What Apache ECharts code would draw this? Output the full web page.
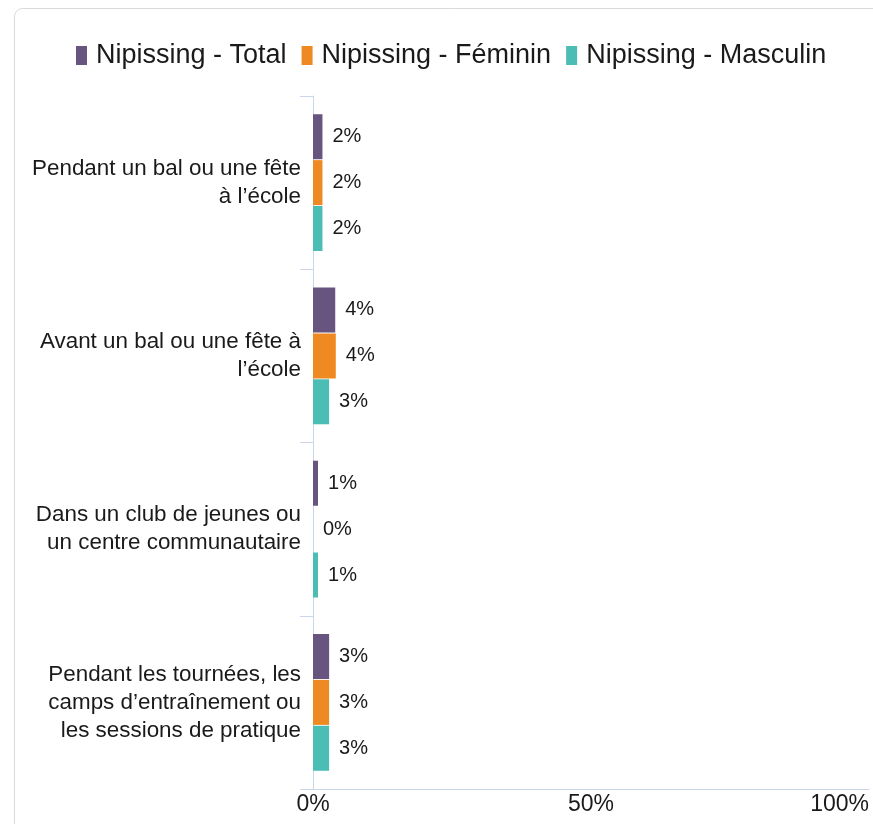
<!DOCTYPE html>
<html>
<head>
<meta charset="utf-8">
<script src="https://cdn.jsdelivr.net/npm/echarts@6/dist/echarts.min.js"></script>
<style>
  html, body { margin: 0; padding: 0; background: #fff; overflow: hidden; }
  #main { width: 873px; height: 824px; }
</style>
</head>
<body>
<div id="main"></div>
<script>
	'use strict';

	// categories, top to bottom
	var categories = [
		'Pendant un bal ou une fête\nà l\u2019école',
		'Avant un bal ou une fête à\nl\u2019école',
		'Dans un club de jeunes ou\nun centre communautaire',
		'Pendant les tournées, les\ncamps d\u2019entraînement ou\nles sessions de pratique'
	];
	var seriesNames = ['Nipissing - Total', 'Nipissing - Féminin', 'Nipissing - Masculin'];
	var totalValues = [1.7, 4.0, 0.9, 2.9];
	var femininValues = [1.7, 4.1, 0, 2.9];
	var masculinValues = [1.7, 2.9, 0.9, 2.9];
	var xTicks = [0, 50, 100];

	var colors = ['#67557f', '#ef8a22', '#4bbdb4'];
	var font = '"Liberation Sans", Arial, sans-serif';

	function barSeries(name, data, color){
		return {
			name: name,
			type: 'bar',
			data: data,
			barWidth: 45,
			barGap: '2%',
			itemStyle: { color: color },
			label: {
				show: true,
				position: 'right',
				distance: 10,
				fontFamily: font,
				fontSize: 20,
				color: '#1a1a1a',
				formatter: function (p) { return Math.round(p.value) + '%'; }
			}
		};
	}

	var chart = echarts.init(document.getElementById('main'), null, { renderer: 'canvas' });
	chart.setOption({
		animation: false,
		color: colors,
		graphic: [{
			type: 'rect',
			z: -1,
			shape: { x: 14.5, y: 8.5, width: 1000, height: 1000, r: 8 },
			style: { fill: 'none', stroke: '#d9d9d9', lineWidth: 1 }
		}],
		legend: {
			top: 37,
			left: 71,
			icon: 'rect',
			itemWidth: 11,
			itemHeight: 19,
			itemGap: 15,
			textStyle: { fontFamily: font, fontSize: 27, color: '#1a1a1a', padding: [0, 0, 0, 4] },
			data: seriesNames
		},
		grid: { left: 313, right: 4, top: 96, bottom: 35 },
		xAxis: {
			type: 'value',
			min: xTicks[0],
			max: xTicks[xTicks.length - 1],
			interval: 50,
			axisLine: { show: true, lineStyle: { color: '#ccd6eb' } },
			axisTick: { show: false },
			splitLine: { show: false },
			axisLabel: {
				fontFamily: font,
				fontSize: 23,
				color: '#1a1a1a',
				margin: 4,
				alignMaxLabel: 'right',
				formatter: '{value}%'
			}
		},
		yAxis: {
			type: 'category',
			inverse: true,
			data: categories,
			axisLine: { show: true, lineStyle: { color: '#ccd6eb' } },
			axisTick: { show: true, length: 13, lineStyle: { color: '#ccd6eb' } },
			axisLabel: {
				fontFamily: font,
				fontSize: 22.4,
				lineHeight: 28,
				color: '#1a1a1a',
				margin: 12,
				align: 'right'
			}
		},
		series: [
			barSeries(seriesNames[0], totalValues, colors[0]),
			barSeries(seriesNames[1], femininValues, colors[1]),
			barSeries(seriesNames[2], masculinValues, colors[2])
		]
	});
</script>
</body>
</html>
